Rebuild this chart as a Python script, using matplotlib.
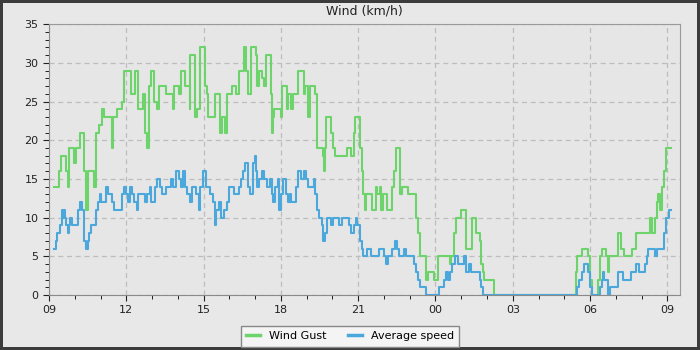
import numpy as np
import matplotlib.pyplot as plt
from matplotlib.ticker import MultipleLocator

# hours after 09:00 where the value changes, and the value from then on
gust_t = [0.21, 0.39, 0.45, 0.65, 0.72, 0.78, 0.98, 1.05, 1.19, 1.37, 1.45, 1.50, 1.76, 1.81, 1.95,
          2.04, 2.14, 2.45, 2.50, 2.62, 2.84, 2.91, 3.18, 3.32, 3.47, 3.63, 3.72, 3.80, 3.88, 3.96,
          4.07, 4.18, 4.28, 4.56, 4.80, 4.87, 5.03, 5.13, 5.26, 5.47, 5.49, 5.68, 5.73, 5.88, 6.06,
          6.12, 6.18, 6.45, 6.63, 6.71, 6.84, 6.92, 7.10, 7.25, 7.38, 7.56, 7.64, 7.74, 7.85, 8.03,
          8.09, 8.17, 8.28, 8.33, 8.43, 8.61, 8.64, 8.68, 8.74, 9.00, 9.05, 9.23, 9.28, 9.41, 9.49,
          9.67, 9.88, 9.93, 10.06, 10.14, 10.32, 10.40, 10.42, 10.63, 10.68, 10.72, 10.76, 10.94,
          11.04, 11.12, 11.56, 11.74, 11.82, 11.89, 12.09, 12.13, 12.17, 12.25, 12.32, 12.55, 12.68,
          12.74, 12.84, 12.89, 12.97, 13.10, 13.31, 13.41, 13.46, 13.62, 13.69, 13.92, 14.24, 14.34,
          14.39, 14.65, 14.70, 14.93, 15.11, 15.55, 15.61, 15.73, 15.81, 15.99, 16.19, 16.42, 16.58,
          16.73, 16.78, 16.84, 16.89, 17.27, 20.44, 20.49, 20.67, 20.91, 21.01, 21.09, 21.30, 21.37,
          21.45, 21.61, 21.68, 21.73, 22.07, 22.22, 22.30, 22.62, 22.77, 23.31, 23.42, 23.52, 23.60,
          23.65, 23.73, 23.80, 23.88, 23.96, 24.14]
gust_v = [14, 16, 18, 16, 14, 19, 17, 19, 21, 16, 11, 16, 14, 21, 22,
          24, 23, 19, 23, 24, 25, 29, 26, 29, 24, 26, 21, 19, 27, 29,
          25, 24, 27, 26, 24, 27, 26, 29, 27, 24, 31, 23, 24, 32, 27,
          26, 23, 26, 21, 23, 21, 26, 27, 26, 29, 32, 29, 26, 32, 31,
          27, 29, 28, 27, 31, 26, 21, 23, 24, 23, 27, 24, 26, 24, 26,
          29, 26, 27, 23, 27, 26, 24, 19, 18, 16, 19, 23, 21,
          19, 18, 19, 18, 21, 23, 19, 16, 13, 11, 13, 11, 14,
          13, 14, 11, 13, 11, 14, 16, 19, 13, 14, 13, 10, 8,
          5, 2, 3, 2, 5, 4, 5, 8, 10, 11, 6, 10, 8,
          7, 4, 3, 2, 0, 3, 5, 6, 5, 2, 0, 2, 5,
          6, 5, 3, 5, 8, 6, 5, 6, 8, 10, 8, 10, 12,
          13, 11, 14, 16, 19, 19]

avg_t = [0.21, 0.26, 0.31, 0.41, 0.49, 0.53, 0.57, 0.61, 0.65, 0.72, 0.78, 0.83, 0.88, 1.11, 1.19,
         1.29, 1.34, 1.42, 1.50, 1.55, 1.63, 1.84, 1.89, 1.97, 2.02, 2.22, 2.30, 2.43, 2.53, 2.84,
         2.90, 2.97, 3.08, 3.15, 3.23, 3.31, 3.40, 3.47, 3.72, 3.80, 3.93, 3.97, 4.12, 4.20, 4.30,
         4.40, 4.54, 4.72, 4.80, 4.92, 5.03, 5.11, 5.19, 5.29, 5.37, 5.47, 5.55, 5.70, 5.81, 5.88,
         5.99, 6.09, 6.25, 6.35, 6.43, 6.50, 6.58, 6.68, 6.79, 6.92, 7.00, 7.18, 7.36, 7.44, 7.54,
         7.62, 7.74, 7.80, 7.92, 8.00, 8.04, 8.09, 8.17, 8.28, 8.35, 8.46, 8.56, 8.64, 8.71, 8.79,
         8.87, 8.92, 9.02, 9.10, 9.18, 9.26, 9.34, 9.41, 9.60, 9.67, 9.78, 9.88, 9.96, 10.06, 10.27,
         10.34, 10.40, 10.47, 10.58, 10.65, 10.70, 10.78, 10.94, 11.04, 11.27, 11.38, 11.66, 11.74,
         11.82, 11.92, 11.97, 12.08, 12.13, 12.19, 12.35, 12.48, 12.79, 12.99, 13.07, 13.17, 13.31,
         13.43, 13.51, 13.59, 13.79, 13.87, 14.16, 14.24, 14.31, 14.39, 14.62, 15.12, 15.35, 15.40,
         15.48, 15.56, 15.64, 15.74, 15.89, 16.10, 16.17, 16.29, 16.37, 16.73, 16.78, 16.84, 20.49,
         20.57, 20.67, 20.75, 20.91, 21.01, 21.09, 21.37, 21.45, 21.50, 21.55, 21.71, 21.76, 22.10,
         22.28, 22.59, 22.80, 22.90, 23.13, 23.21, 23.26, 23.52, 23.60, 23.88, 23.96, 24.06, 24.14]
avg_v = [6, 7, 8, 9, 11, 10, 11, 10, 9, 8, 9, 10, 9, 11, 12,
         11, 7, 6, 7, 8, 9, 11, 12, 13, 12, 14, 13, 12, 11, 13,
         14, 13, 12, 14, 13, 12, 11, 13, 12, 13, 14, 12, 14, 15, 14,
         13, 14, 15, 14, 16, 15, 14, 16, 14, 13, 12, 14, 13, 11, 14,
         16, 14, 13, 12, 9, 11, 12, 10, 11, 12, 14, 13, 14, 15, 16,
         17, 14, 13, 17, 18, 16, 14, 15, 16, 15, 14, 15, 13, 12, 14,
         15, 11, 13, 15, 13, 12, 13, 12, 14, 16, 15, 16, 15, 14, 15,
         13, 11, 10, 9, 7, 8, 10, 9, 10, 9, 10, 9, 8,
         9, 10, 9, 7, 6, 5, 6, 5, 6, 5, 4, 5, 6,
         7, 6, 5, 6, 5, 4, 3, 2, 1, 0, 1, 2, 3,
         2, 3, 4, 5, 4, 5, 3, 4, 3, 2, 1, 0, 1,
         2, 3, 4, 3, 1, 0, 1, 2, 3, 2, 0, 1, 3,
         2, 3, 4, 3, 4, 5, 6, 5, 6, 8, 10, 11, 11]

hour_labels = ['09', '12', '15', '18', '21', '00', '03', '06', '09']

fig = plt.figure(figsize=(7, 3.5), dpi=100)
fig.patch.set_facecolor('#e8e8e8')
fig.patch.set_edgecolor('#3c3c3c')
fig.patch.set_linewidth(3)
ax = fig.add_axes([0.07, 0.157, 0.901, 0.774])
ax.set_facecolor('#e6e6e6')

ax.step(gust_t, gust_v, where='post', color='#6cd46a', lw=1.5, label='Wind Gust')
ax.step(avg_t, avg_v, where='post', color='#4aa8dc', lw=1.5, label='Average speed')

ax.set_xlim(0, 24.48)
ax.set_ylim(0, 35)
ax.set_xticks(np.arange(0, 25, 3))
ax.set_xticklabels(hour_labels)
ax.xaxis.set_minor_locator(MultipleLocator(1))
ax.yaxis.set_major_locator(MultipleLocator(5))
ax.yaxis.set_minor_locator(MultipleLocator(1))
ax.tick_params(labelsize=8, length=4, color='#222222', labelcolor='#222222')
ax.tick_params(which='minor', length=3)
ax.grid(True, ls=(0, (4, 3)), color='#bdbdbd', lw=0.9)
for s in ['top', 'right']:
    ax.spines[s].set_color('#9a9a9a')
for s in ['left', 'bottom']:
    ax.spines[s].set_color('#8a8a8a')
ax.set_title('Wind (km/h)', fontsize=9, color='#222222', pad=7)

leg = fig.legend(loc='lower center', bbox_to_anchor=(0.5, 0.0), ncol=2, fontsize=8,
                 fancybox=False, edgecolor='#888888', facecolor='#f4f4f4', framealpha=1,
                 handlelength=1.2, columnspacing=2.0, borderpad=0.5, borderaxespad=0.3)
for line in leg.get_lines():
    line.set_linewidth(2.5)

fig.savefig('out.png', dpi=100, facecolor=fig.get_facecolor(), edgecolor=fig.get_edgecolor())
